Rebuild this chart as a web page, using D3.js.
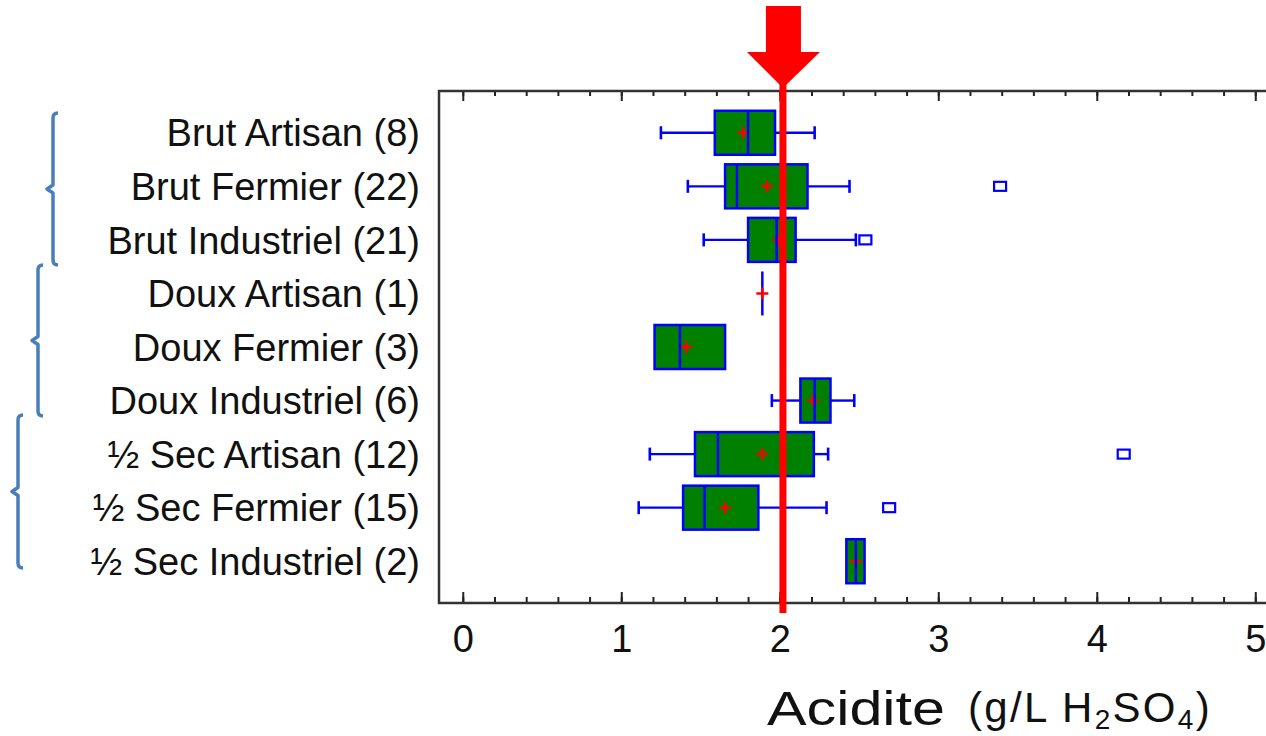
<!DOCTYPE html>
<html>
<head>
<meta charset="utf-8">
<script src="https://cdn.jsdelivr.net/npm/d3@7"></script>
<style>
  html, body { margin: 0; padding: 0; background: #fff; }
  svg { display: block; }
  text { font-family: "Liberation Sans", Arial, sans-serif; }
</style>
</head>
<body>
<svg id="chart" width="1266" height="736"></svg>
<script>
// Acidity by wine style and producer type (box plots, g/L H2SO4)
const categories = [
  "Brut Artisan (8)", "Brut Fermier (22)", "Brut Industriel (21)",
  "Doux Artisan (1)", "Doux Fermier (3)", "Doux Industriel (6)",
  "\u00BD Sec Artisan (12)", "\u00BD Sec Fermier (15)", "\u00BD Sec Industriel (2)"
];
const whiskerLow  = [1.25, 1.42, 1.52, 1.89, 1.21, 1.95, 1.18, 1.11, 2.42];
const q1          = [1.59, 1.655, 1.80, 1.89, 1.21, 2.13, 1.465, 1.39, 2.42];
const medians     = [1.80, 1.73, 1.98, 1.89, 1.37, 2.22, 1.61, 1.525, 2.48];
const q3          = [1.97, 2.175, 2.10, 1.89, 1.655, 2.32, 2.215, 1.865, 2.535];
const whiskerHigh = [2.22, 2.44, 2.48, 1.89, 1.655, 2.47, 2.305, 2.295, 2.535];
const means       = [1.77, 1.92, 1.99, 1.89, 1.41, 2.21, 1.89, 1.655, 2.48];
const outliers    = [[], [3.39], [2.54], [], [], [], [4.17], [2.69], []];
const xTicks = [0, 1, 2, 3, 4, 5];
const xMinorTicks = d3.range(0, 26).map(i => +(i * 0.2).toFixed(1));
const referenceValue = 2.02;   // threshold marked by the red arrow

// Group braces (Brut / Doux / 1/2 Sec) drawn at the left of the labels
const braces = [
  { x: 53, top: 113, bottom: 265 },
  { x: 38, top: 265, bottom: 416 },
  { x: 18, top: 415, bottom: 568 }
];

const svg = d3.select("#chart");
const frame = { left: 439, right: 1290, top: 91, bottom: 603 };

const x = d3.scaleLinear().domain([-0.15, 5.22]).range([frame.left, frame.left + 5.37 * 158.5]);
const y = d3.scalePoint().domain(categories).range([frame.top, frame.bottom]).padding(0.78);

const boxH = 44, capH = 13;
const blue = "#0000ff", green = "#008000", red = "#ff0000";

// Axis ticks (bottom ticks point up, top ticks point down)
function styleAxis(g) {
  g.select(".domain").remove();
  g.selectAll(".tick line").attr("stroke", "#222").attr("stroke-width", 2);
}
svg.append("g").attr("transform", `translate(0,${frame.bottom})`)
  .call(d3.axisBottom(x).tickValues(xMinorTicks).tickSize(-6).tickFormat(""))
  .call(styleAxis);
svg.append("g").attr("transform", `translate(0,${frame.bottom})`)
  .call(d3.axisBottom(x).tickValues(xTicks).tickSize(-11).tickPadding(22).tickFormat(d3.format("d")))
  .call(styleAxis)
  .call(g => g.selectAll(".tick text").attr("font-size", 38).attr("fill", "#111")
    .attr("font-family", "'Liberation Sans', Arial, sans-serif"));
svg.append("g").attr("transform", `translate(0,${frame.top})`)
  .call(d3.axisTop(x).tickValues(xMinorTicks).tickSize(-5).tickFormat(""))
  .call(styleAxis);
svg.append("g").attr("transform", `translate(0,${frame.top})`)
  .call(d3.axisTop(x).tickValues(xTicks).tickSize(-10).tickFormat(""))
  .call(styleAxis);

// Plot frame (left, top, bottom)
svg.append("path")
  .attr("d", `M${frame.right},${frame.top} H${frame.left} V${frame.bottom} H${frame.right}`)
  .attr("fill", "none").attr("stroke", "#333").attr("stroke-width", 2.5);

// Category labels
svg.append("g").selectAll("text").data(categories).join("text")
  .attr("x", 420).attr("y", d => y(d)).attr("dy", "0.36em")
  .attr("text-anchor", "end").attr("font-size", 38).attr("fill", "#111")
  .text(d => d);

// Box plots
const rows = categories.map((c, i) => ({
  c, lo: whiskerLow[i], q1: q1[i], med: medians[i], q3: q3[i], hi: whiskerHigh[i],
  mean: means[i], out: outliers[i]
}));
const plot = svg.append("g");
rows.forEach(r => {
  const cy = y(r.c);
  const g = plot.append("g");
  // whiskers
  if (r.lo < r.q1) {
    g.append("line").attr("x1", x(r.lo)).attr("x2", x(r.q1)).attr("y1", cy).attr("y2", cy)
      .attr("stroke", blue).attr("stroke-width", 2.4);
    g.append("line").attr("x1", x(r.lo)).attr("x2", x(r.lo)).attr("y1", cy - capH / 2).attr("y2", cy + capH / 2)
      .attr("stroke", blue).attr("stroke-width", 2.6);
  }
  if (r.hi > r.q3) {
    g.append("line").attr("x1", x(r.q3)).attr("x2", x(r.hi)).attr("y1", cy).attr("y2", cy)
      .attr("stroke", blue).attr("stroke-width", 2.4);
    g.append("line").attr("x1", x(r.hi)).attr("x2", x(r.hi)).attr("y1", cy - capH / 2).attr("y2", cy + capH / 2)
      .attr("stroke", blue).attr("stroke-width", 2.6);
  }
  // box
  g.append("rect").attr("x", x(r.q1)).attr("y", cy - boxH / 2)
    .attr("width", Math.max(0, x(r.q3) - x(r.q1))).attr("height", boxH)
    .attr("fill", green).attr("stroke", blue).attr("stroke-width", 2.5);
  // mean marker
  const mx = x(r.mean);
  const meanMark = g.append("path").attr("d", `M${mx - 6},${cy} H${mx + 6} M${mx},${cy - 6} V${cy + 6}`)
    .attr("stroke", red).attr("stroke-width", 2.5).attr("fill", "none");
  // median
  g.append("line").attr("x1", x(r.med)).attr("x2", x(r.med)).attr("y1", cy - boxH / 2).attr("y2", cy + boxH / 2)
    .attr("stroke", blue).attr("stroke-width", 2.5);
  if (r.lo === r.hi) meanMark.raise();
  // outliers
  g.selectAll("rect.out").data(r.out).join("rect").attr("class", "out")
    .attr("x", d => x(d) - 6).attr("y", cy - 4.5).attr("width", 12).attr("height", 9)
    .attr("fill", "#fff").attr("stroke", blue).attr("stroke-width", 2.2);
});

// Reference line with arrow
const rx = x(referenceValue);
svg.append("line").attr("x1", rx).attr("x2", rx).attr("y1", 50).attr("y2", 613)
  .attr("stroke", red).attr("stroke-width", 7);
svg.append("path")
  .attr("d", `M${rx - 17},6 H${rx + 18} V52 H${rx + 37} L${rx},88 L${rx - 36},52 H${rx - 17} Z`)
  .attr("fill", red);

// Axis title
svg.append("text").attr("x", 767).attr("y", 725).attr("font-size", 48).attr("fill", "#111")
  .attr("textLength", 178).attr("lengthAdjust", "spacingAndGlyphs").text("Acidite");
const unit = svg.append("text").attr("x", 968).attr("y", 722).attr("font-size", 42)
  .attr("letter-spacing", 2.3).attr("fill", "#111");
unit.append("tspan").text("(g/L H");
unit.append("tspan").attr("font-size", 28).attr("dy", 7).text("2");
unit.append("tspan").attr("dy", -7).text("SO");
unit.append("tspan").attr("font-size", 28).attr("dy", 7).text("4");
unit.append("tspan").attr("dy", -7).text(")");

// Group braces
svg.append("g").selectAll("path").data(braces).join("path")
  .attr("d", b => {
    const m = (b.top + b.bottom) / 2;
    return `M${b.x + 5},${b.top} Q${b.x},${b.top} ${b.x},${b.top + 5} V${m - 4} L${b.x - 6},${m} L${b.x},${m + 4} V${b.bottom - 5} Q${b.x},${b.bottom} ${b.x + 5},${b.bottom}`;
  })
  .attr("fill", "none").attr("stroke", "#4a7ebb").attr("stroke-width", 3.5).attr("stroke-linejoin", "round");
</script>
</body>
</html>
